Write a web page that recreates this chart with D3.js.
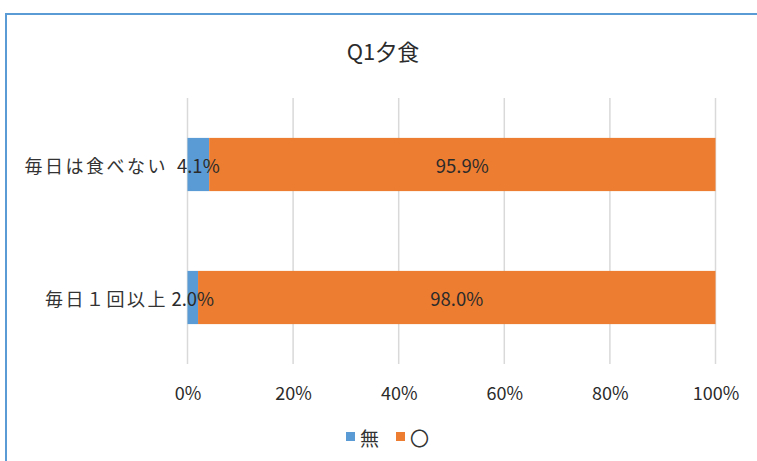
<!DOCTYPE html>
<html><head><meta charset="utf-8">
<script src="https://cdn.jsdelivr.net/npm/d3@7"></script>
<style>body{margin:0;background:#fff}svg{display:block}text{font-family:"Noto Sans CJK JP","Noto Sans",sans-serif}</style>
</head><body><svg id="c" width="757" height="461"></svg>
<script>
const title = "Q1夕食";
const categories = ["毎日は食べない", "毎日１回以上"];
const seriesNames = ["無", "〇"];
const seriesNone = [4.1, 2.0];
const seriesYes = [95.9, 98.0];
const tickValues = [0, 20, 40, 60, 80, 100];
const colors = ["#5B9BD5", "#ED7D31"];

const svg = d3.select("#c");
svg.append("rect").attr("x",6).attr("y",14).attr("width",800).attr("height",500)
  .attr("fill","#fff").attr("stroke","#5B9BD5").attr("stroke-width",2);

const x = d3.scaleLinear().domain([0,100]).range([187.5,715.5]);
const y = d3.scaleBand().domain(categories).range([98,364]).paddingInner(0.6).paddingOuter(0.3);

svg.append("text").attr("x",383).attr("y",50).attr("text-anchor","middle").attr("dominant-baseline","central")
  .attr("font-size",22).attr("fill","#2b2b2b").text(title);

// gridlines
svg.append("g").selectAll("line").data(tickValues).join("line")
  .attr("x1",d=>x(d)).attr("x2",d=>x(d)).attr("y1",98).attr("y2",364)
  .attr("stroke","#d9d9d9").attr("stroke-width",1.5);

// axis labels
const xa = d3.axisBottom(x).tickValues(tickValues).tickFormat(d=>d+"%").tickSize(0).tickPadding(0);
const gx = svg.append("g").attr("transform","translate(0,392)").call(xa);
gx.select(".domain").remove();
gx.selectAll("text").attr("dy",null).attr("dominant-baseline","central").attr("font-size",18).attr("fill","#2b2b2b")
  .style("font-family",'"Noto Sans CJK JP","Noto Sans",sans-serif');

const stacked = categories.map((c,i)=>({c, segs:[{s:0,v:seriesNone[i],k:0},{s:seriesNone[i],v:seriesYes[i],k:1}]}));
const g = svg.append("g");
stacked.forEach(d=>{
  d.segs.forEach(s=>{
    g.append("rect").attr("x",x(s.s)).attr("width",x(s.s+s.v)-x(s.s))
      .attr("y",y(d.c)).attr("height",y.bandwidth()).attr("fill",colors[s.k]);
  });
  d.segs.forEach(s=>{
    g.append("text").attr("x",x(s.s+s.v/2)).attr("y",y(d.c)+y.bandwidth()/2)
      .attr("text-anchor","middle").attr("dominant-baseline","central")
      .attr("font-size",18.5).attr("fill","#2b2b2b").text(s.v.toFixed(1)+"%");
  });
  svg.append("text").attr("x",168).attr("y",y(d.c)+y.bandwidth()/2)
    .attr("text-anchor","end").attr("dominant-baseline","central")
    .attr("font-size",18).attr("letter-spacing","2.5px").attr("fill","#333").text(d.c);
});

// legend
const lg = svg.append("g");
const lx = [346, 396];
seriesNames.forEach((n,i)=>{
  lg.append("rect").attr("x",lx[i]).attr("y",432).attr("width",9).attr("height",9).attr("fill",colors[i]);
  lg.append("text").attr("x",lx[i]+14).attr("y",437).attr("dominant-baseline","central")
    .attr("font-size",19).attr("fill","#333").text(n);
});
</script></body></html>
